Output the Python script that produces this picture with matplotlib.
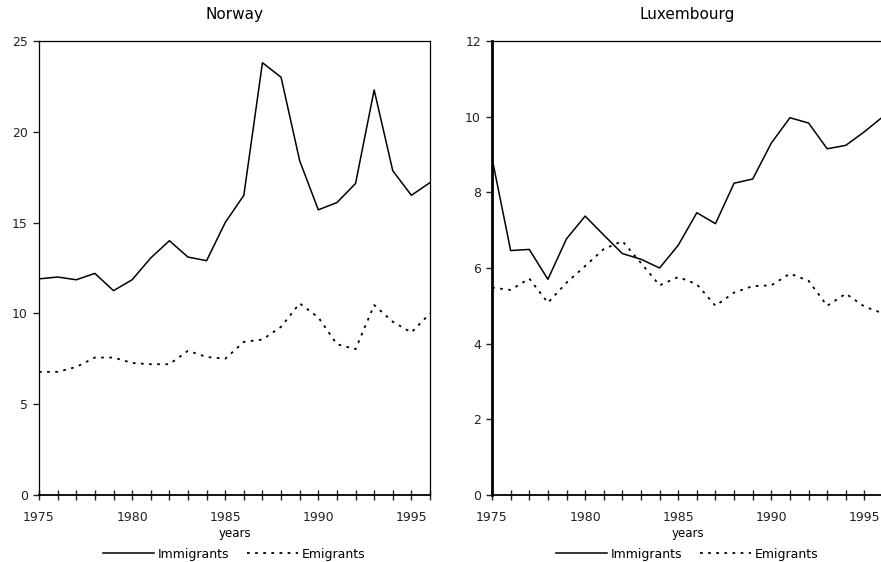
import matplotlib
matplotlib.use("Agg")
import matplotlib.pyplot as plt
from matplotlib.ticker import MultipleLocator

plt.rcParams['font.family'] = ['DejaVu Sans']

years = list(range(1975, 1997))

# Norway, per 1000
nor_imm = [11.9, 12.0, 11.85, 12.2, 11.25, 11.85, 13.05, 14.0, 13.1, 12.9, 15.0, 16.5,
           23.8, 23.0, 18.4, 15.7, 16.1, 17.15, 22.3, 17.85, 16.5, 17.2]
nor_emi = [6.78, 6.78, 7.05, 7.57, 7.57, 7.27, 7.2, 7.2, 7.94, 7.6, 7.5, 8.43,
           8.56, 9.26, 10.55, 9.78, 8.3, 8.03, 10.46, 9.54, 8.95, 10.0]

# Luxembourg, per 1000
lux_imm = [8.9, 6.46, 6.49, 5.7, 6.77, 7.37, 6.87, 6.38, 6.23, 6.0, 6.6, 7.46,
           7.17, 8.24, 8.35, 9.3, 9.97, 9.83, 9.15, 9.24, 9.6, 10.0]
lux_emi = [5.48, 5.42, 5.72, 5.08, 5.61, 6.05, 6.5, 6.71, 6.13, 5.54, 5.76, 5.57,
           5.0, 5.35, 5.52, 5.54, 5.85, 5.66, 5.0, 5.32, 4.98, 4.8]

fig = plt.figure(figsize=(8.81, 5.62), dpi=100)
ax1 = fig.add_axes([0.0443, 0.1192, 0.4438, 0.808])
ax2 = fig.add_axes([0.5585, 0.1192, 0.4438, 0.808])

panels = [(ax1, "Norway", nor_imm, nor_emi, 25, 5),
          (ax2, "Luxembourg", lux_imm, lux_emi, 12, 2)]

for ax, title, imm, emi, ymax, ystep in panels:
    ax.plot(years, imm, color="black", linewidth=1.1, label="Immigrants")
    ax.plot(years, emi, color="black", linewidth=1.3, linestyle=(0, (1.5, 3)),
            label="Emigrants")
    ax.set_xlim(1975, 1996)
    ax.set_ylim(0, ymax)
    ax.xaxis.set_major_locator(MultipleLocator(5))
    ax.xaxis.set_minor_locator(MultipleLocator(1))
    ax.yaxis.set_major_locator(MultipleLocator(ystep))
    ax.tick_params(axis="x", which="both", direction="inout", length=7, width=1,
                   labelsize=9, colors="#222222", pad=8)
    ax.tick_params(axis="y", direction="out", length=4, width=1,
                   labelsize=9, colors="#222222", pad=4)
    ax.set_title(title, fontsize=11, pad=16)
    ax.set_xlabel("years", fontsize=8.5, labelpad=2)
    for s in ax.spines.values():
        s.set_linewidth(0.9)
    ax.spines["bottom"].set_linewidth(1.3)
    ax.legend(loc="center", bbox_to_anchor=(0.5, -0.13), ncol=2,
              frameon=False, fontsize=9, handlelength=4.1, columnspacing=1.4,
              handletextpad=0.3, borderpad=0)

ax2.spines["left"].set_linewidth(2)

fig.savefig("out.png", dpi=100)
